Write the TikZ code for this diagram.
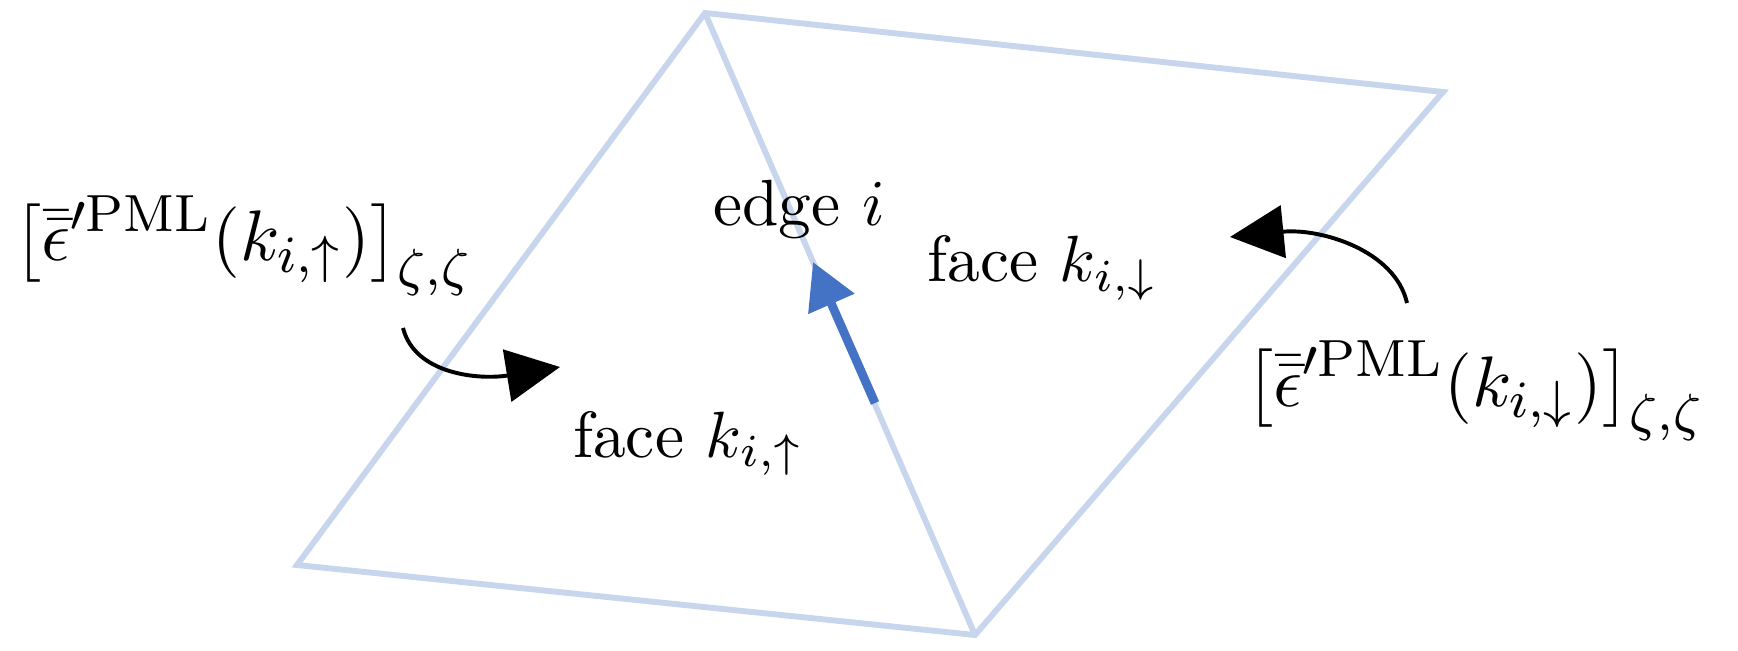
\documentclass[tikz,border=0pt]{standalone}
\usetikzlibrary{arrows.meta}
\definecolor{edgeblue}{HTML}{4472C4}
\colorlet{lightblue}{edgeblue!30}
\newcommand\mybigl[1]{\mathopen{\hbox{$\left#1\vbox to9.2pt{}\right.\nulldelimiterspace=0pt$}}}
\newcommand\mybigr[1]{\mathclose{\hbox{$\left#1\vbox to9.2pt{}\right.\nulldelimiterspace=0pt$}}}
\tikzset{
  meshline/.style={draw=lightblue, line width=0.9pt},
  lbl/.style={anchor=base west, inner sep=0pt, font=\fontsize{10}{12}\selectfont},
  biglbl/.style={anchor=base west, inner sep=0pt, font=\fontsize{11}{13.6}\selectfont},
  curvearrow/.style={draw=black, line width=0.6pt, -{Triangle[length=8.2pt,width=8pt]}},
  edgearrow/.style={draw=edgeblue, line width=1.35pt, -{Triangle[length=7pt,width=7.4pt]}}
}
\begin{document}
\begin{tikzpicture}[x=0.153pt, y=-0.153pt]
\useasboundingbox (0,0) rectangle (1738,651);
\coordinate (T) at (705,13);
\coordinate (L) at (297,565);
\coordinate (B) at (975,635);
\coordinate (R) at (1443,92);
\draw[meshline] (L) -- (T) -- (R) -- (B) -- cycle;
\draw[meshline] (T) -- (B);
\coordinate (ea) at (875,403);
\coordinate (eb) at (813,262);
\draw[edgearrow] (ea) -- (eb);
\node[lbl] (edge) at (712,226) {edge $i$};
\node[lbl] (fdown) at (926,282) {face $k_{i,\downarrow}$};
\node[lbl] (fup) at (572,457) {face $k_{i,\uparrow}$};
\node[biglbl] (lab1) at (13,261) {$\mybigl[\bar{\bar{\epsilon}}'^{\mathrm{PML}}(k_{i,\uparrow})\mybigr]_{\zeta,\zeta}$};
\node[biglbl] (lab2) at (1245,406) {$\mybigl[\bar{\bar{\epsilon}}'^{\mathrm{PML}}(k_{i,\downarrow})\mybigr]_{\zeta,\zeta}$};
\coordinate (a1s) at (403,328);
\coordinate (a1e) at (560,367);
\draw[curvearrow] (a1s) .. controls (415,375) and (480,380) .. (a1e);
\coordinate (a2s) at (1407,303);
\coordinate (a2e) at (1230,237);
\draw[curvearrow] (a2s) .. controls (1395,250) and (1320,228) .. (a2e);
\end{tikzpicture}
\end{document}
